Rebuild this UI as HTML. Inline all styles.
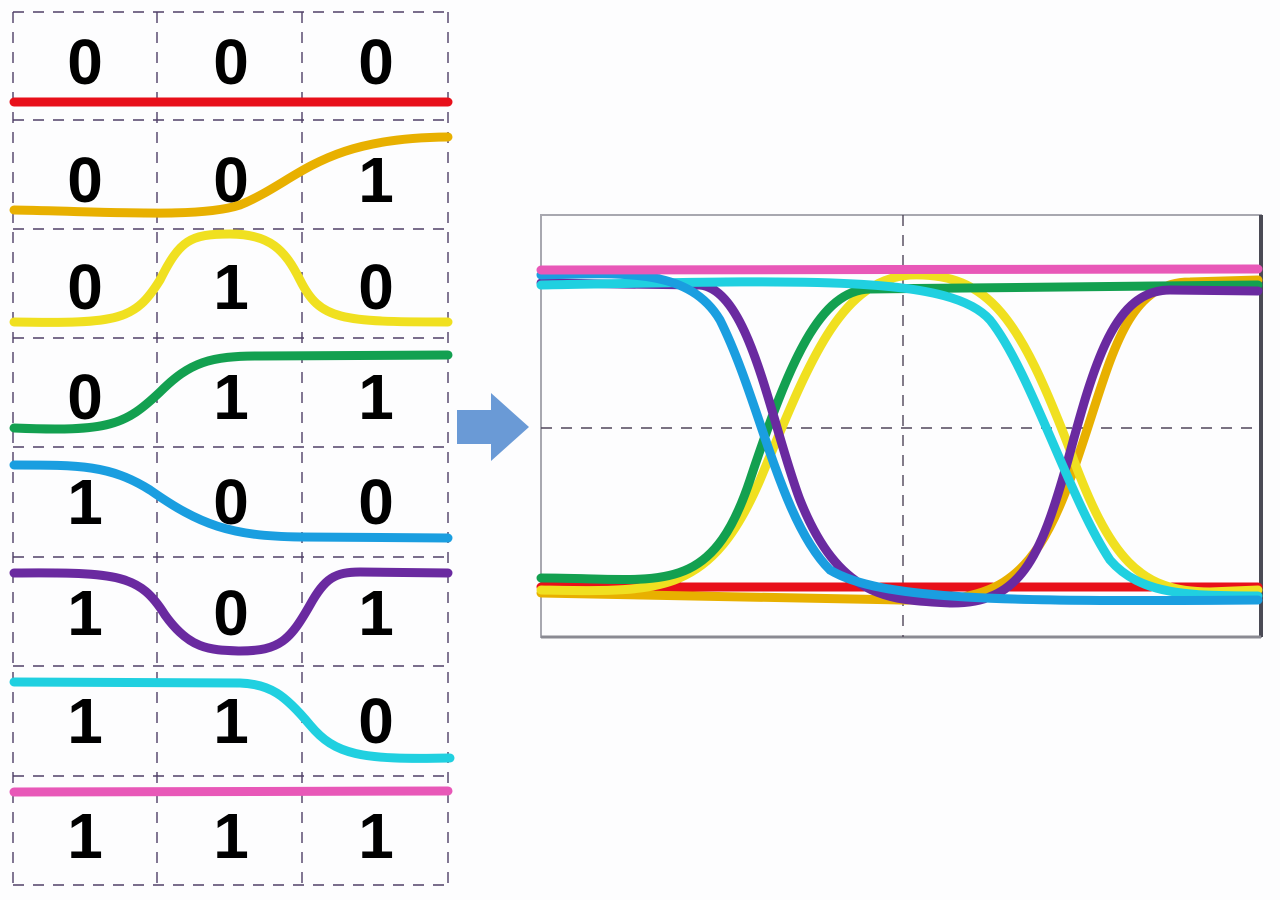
<!DOCTYPE html>
<html><head><meta charset="utf-8"><style>
html,body{margin:0;padding:0;background:#fdfdfe;}
svg{display:block;}
text{font-family:"Liberation Sans",sans-serif;font-weight:bold;font-size:64px;fill:#000;text-anchor:middle;}
</style></head><body>
<svg width="1280" height="900" viewBox="0 0 1280 900" xmlns="http://www.w3.org/2000/svg">
<rect width="1280" height="900" fill="#fdfdfe"/>
<g stroke="#4e3e66" stroke-width="1.4" stroke-dasharray="11,9" fill="none">
<line x1="13" y1="12" x2="13" y2="885"/><line x1="157" y1="12" x2="157" y2="885"/>
<line x1="302" y1="12" x2="302" y2="885"/><line x1="448" y1="12" x2="448" y2="885"/>
<line x1="13" y1="12" x2="448" y2="12"/><line x1="13" y1="120" x2="448" y2="120"/>
<line x1="13" y1="229" x2="448" y2="229"/><line x1="13" y1="338" x2="448" y2="338"/>
<line x1="13" y1="447" x2="448" y2="447"/><line x1="13" y1="557" x2="448" y2="557"/>
<line x1="13" y1="666" x2="448" y2="666"/><line x1="13" y1="776" x2="448" y2="776"/>
<line x1="13" y1="885" x2="448" y2="885"/>
</g>
<g>
<text x="85" y="84">0</text><text x="231" y="84">0</text><text x="376" y="84">0</text>
<text x="85" y="202">0</text><text x="231" y="202">0</text><text x="376" y="202">1</text>
<text x="85" y="309">0</text><text x="231" y="309">1</text><text x="376" y="309">0</text>
<text x="85" y="419">0</text><text x="231" y="419">1</text><text x="376" y="419">1</text>
<text x="85" y="524">1</text><text x="231" y="524">0</text><text x="376" y="524">0</text>
<text x="85" y="635">1</text><text x="231" y="635">0</text><text x="376" y="635">1</text>
<text x="85" y="743">1</text><text x="231" y="743">1</text><text x="376" y="743">0</text>
<text x="85" y="858">1</text><text x="231" y="858">1</text><text x="376" y="858">1</text>
</g>
<g fill="none" stroke-linecap="round" stroke-width="9">
<path d="M14 102 L448 102" stroke="#e8101a"/>
<path d="M14 210 C120 212 200 218 240 205 C300 180 320 138 448 137" stroke="#e8b000"/>
<path d="M14 322 C120 324 135 320 160 280 C180 240 190 234 230 234 C270 234 285 250 300 280 C320 320 340 322 448 322" stroke="#f0e020"/>
<path d="M14 428 C110 432 125 425 160 392 C190 362 210 356 260 356 L448 355" stroke="#13a050"/>
<path d="M14 465 C80 465 110 465 150 490 C200 525 230 536 300 537 L448 538" stroke="#1a9ee0"/>
<path d="M14 573 C120 572 140 575 165 615 C190 650 210 650 240 651 C280 651 290 640 310 605 C325 578 335 572 360 572 L448 573" stroke="#6a2aa0"/>
<path d="M14 682 L240 683 C270 684 285 695 310 725 C335 755 360 760 450 758" stroke="#20d0e0"/>
<path d="M14 792 L448 791" stroke="#e858b8"/>
</g>
<polygon points="457,410 491,410 491,393 529,427 491,461 491,444 457,444" fill="#6a9ad6"/>
<rect x="541" y="215" width="720" height="422" fill="#fdfdfe" stroke="#a8a8b0" stroke-width="2"/>
<line x1="1261" y1="215" x2="1261" y2="637" stroke="#4a4a55" stroke-width="4"/>
<line x1="541" y1="637" x2="1261" y2="637" stroke="#8a8a92" stroke-width="3"/>
<g stroke="#4e4458" stroke-width="1.4" stroke-dasharray="11,9" fill="none">
<line x1="903" y1="215" x2="903" y2="637"/><line x1="541" y1="428" x2="1261" y2="428"/>
</g>
<g fill="none" stroke-linecap="round" stroke-width="9">
<path d="M541 587 L1258 587" stroke="#e8101a"/>
<path d="M541 593 L900 600 C990 602 1030 590 1070 480 C1110 370 1120 282 1190 282 L1258 280" stroke="#e8b000"/>
<path d="M541 590 C660 592 710 596 760 480 C810 360 840 280 910 275 C990 272 1020 320 1070 450 C1110 560 1140 592 1210 592 L1258 590" stroke="#f0e020"/>
<path d="M541 578 C660 578 710 600 750 480 C790 360 820 290 870 289 L1258 285" stroke="#13a050"/>
<path d="M541 283 L700 285 C750 290 770 420 800 500 C840 600 890 600 950 603 C1020 604 1040 560 1068 460 C1095 360 1115 290 1170 290 L1258 291" stroke="#6a2aa0"/>
<path d="M541 285 C810 280 950 275 990 320 C1030 370 1070 500 1110 560 C1140 595 1190 596 1258 596" stroke="#20d0e0"/>
<path d="M541 275 C630 272 690 270 720 320 C760 400 780 520 830 570 C880 600 1000 602 1258 600" stroke="#1a9ee0"/>
<path d="M541 270 L1258 269" stroke="#e858b8"/>
</g>
</svg>
</body></html>
